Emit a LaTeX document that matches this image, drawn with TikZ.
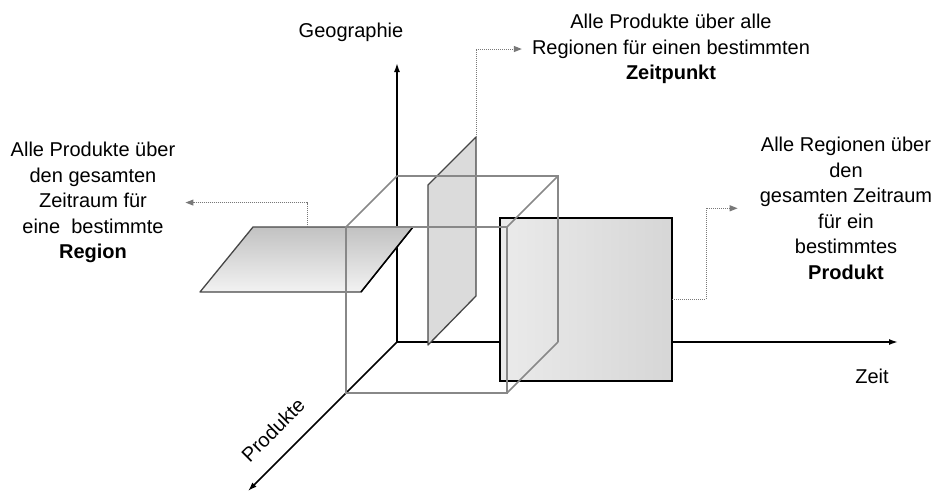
\documentclass[tikz,border=0pt]{standalone}
\usepackage{fontspec}
\setmainfont{Liberation Sans}
\usetikzlibrary{arrows.meta}

\definecolor{cubegray}{RGB}{136,136,136}
\definecolor{planeedge}{RGB}{70,70,70}
\definecolor{linkgray}{RGB}{120,120,120}

\tikzset{
  axis/.style={line width=1.6pt,-{Latex[length=9pt,width=6pt]}},
  cubeline/.style={cubegray,line width=1.6pt},
  planeline/.style={planeedge,line width=1.3pt,line join=round},
  link/.style={linkgray,densely dotted,line width=1pt,-{Triangle[length=8pt,width=6pt]}},
  txt/.style={font=\fontsize{20}{25.5}\selectfont,align=center,inner sep=0pt},
}

\begin{document}
\begin{tikzpicture}[x=1pt,y=-1pt]
  \useasboundingbox (0,0) rectangle (936,493);

  % axes
  \coordinate (o) at (397,342);
  \coordinate (geoTip) at (397,63);
  \coordinate (zeitTip) at (898,342);
  \coordinate (prodTip) at (248,491);
  \draw[axis] (o) -- (geoTip);
  \draw[axis] (o) -- (zeitTip);
  \draw[axis] (o) -- (prodTip);

  % plane: one region
  \coordinate (hp-bl) at (200,292);
  \coordinate (hp-br) at (361,292);
  \coordinate (hp-tr) at (413,227);
  \coordinate (hp-tl) at (253,227);
  \coordinate (hp-top) at (307,227);
  \draw[planeline,top color=black!24,bottom color=black!5]
    (hp-bl) -- (hp-br) -- (hp-tr) -- (hp-tl) -- cycle;
  \draw[black,line width=1.5pt] (hp-br) -- (hp-tr);

  % plane: one point in time
  \coordinate (vp-bl) at (428,345);
  \coordinate (vp-tl) at (428,185);
  \coordinate (vp-tr) at (476,137);
  \coordinate (vp-br) at (476,296);
  \draw[planeline,fill=black!14] (vp-bl) -- (vp-tl) -- (vp-tr) -- (vp-br) -- cycle;

  % plane: one product
  \coordinate (fp-tl) at (500,218);
  \coordinate (fp-br) at (672,381);
  \coordinate (fp-r) at (672,299);
  \draw[black,line width=2.2pt,left color=black!8,right color=black!16]
    (fp-tl) rectangle (fp-br);

  % cube
  \draw[cubeline] (346,227) rectangle (507,393);
  \draw[cubeline] (397,176) -- (558,176) -- (558,342);
  \foreach \a/\b in {346/227,507/227,507/393}
    \draw[cubeline] (\a,\b) -- ++(51,-51);

  % labels
  \node[txt,anchor=base] (geoLabel) at (351,37) {Geographie};
  \node[txt,anchor=base] (zeitLabel) at (872,383) {Zeit};
  \node[txt,rotate=45] (prodLabel) at (273,430) {Produkte};

  \node[txt,anchor=north] (txtRegion) at (93,142)
    {Alle Produkte über\\den gesamten\\Zeitraum für\\eine~ bestimmte\\\textbf{Region}};
  \node[txt,anchor=north] (txtTime) at (671,14)
    {Alle Produkte über alle\\Regionen für einen bestimmten\\\textbf{Zeitpunkt}};
  \node[txt,anchor=north] (txtProduct) at (846,137)
    {Alle Regionen über\\den\\gesamten Zeitraum\\für ein\\bestimmtes\\\textbf{Produkt}};

  % links from the planes to their texts
  \draw[link] (hp-top) |- ([xshift=10pt]txtRegion.east);
  \draw[link] (vp-tr) |- ([xshift=-10pt]txtTime.west);
  \draw[link] (fp-r) -| ++(34,0) |- ([xshift=-22pt]txtProduct.west);
\end{tikzpicture}
\end{document}
